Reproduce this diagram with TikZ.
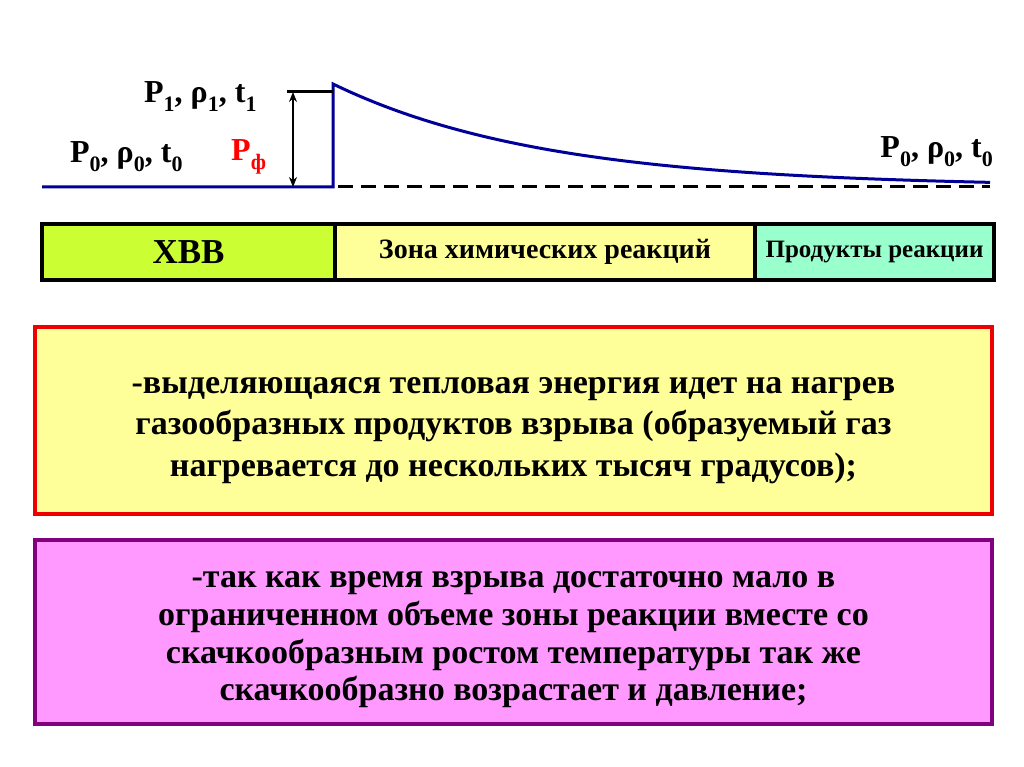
\documentclass[tikz,border=0pt]{standalone}
\usepackage{fontspec}
\setmainfont{Liberation Serif}
\usepackage{xcolor}
\usetikzlibrary{positioning,arrows.meta}
\definecolor{waveblue}{HTML}{000099}
\definecolor{hvvgreen}{HTML}{CCFF33}
\definecolor{paleyellow}{HTML}{FFFF99}
\definecolor{mint}{HTML}{99FFCC}
\definecolor{pinkfill}{HTML}{FF99FF}
\definecolor{plum}{HTML}{800080}
\definecolor{boxred}{HTML}{EE0000}
\newcommand{\idx}[1]{\raisebox{-0.28em}{\fontsize{22}{22}\selectfont #1}}

\begin{document}
\begin{tikzpicture}[x=1pt, y=-1pt,
  lbl/.style={font=\bfseries\fontsize{32}{34}\selectfont, inner sep=0pt, anchor=base west},
  prof/.style={line width=3pt, waveblue},
  cell/.style={draw, line width=4pt, minimum height=56pt, inner sep=0pt, anchor=north west},
  note/.style={draw, line width=4pt, minimum width=957pt, inner sep=0pt, anchor=north west},
  notetext/.style={align=center, inner sep=0pt}]
\useasboundingbox (0,0) rectangle (1024,767);
% pressure profile
\coordinate (start) at (42,187);
\coordinate (front) at (333,187);
\coordinate (peak) at (333,84);
\draw[prof, line join=miter] (start) -- (front) -- (peak)
  -- plot[domain=333:990, samples=80] (\x, {187-103*exp(-(\x-333)/212)});
\draw[line width=3pt, dash pattern=on 15pt off 8pt] (338,187) -- (990,187);
\coordinate (ptop) at (287,92);
\coordinate (atop) at (293,92);
\coordinate (abot) at (293,187);
\draw[line width=3pt] (ptop) -- (peak |- ptop);
\draw[line width=1.5pt, {Stealth[length=10pt,width=8pt]}-{Stealth[length=10pt,width=8pt]}] (atop) -- (abot);
\node[lbl] (p1) at (144,103) {P\idx{1}, ρ\idx{1}, t\idx{1}};
\node[lbl] (p0l) at (70,163) {P\idx{0}, ρ\idx{0}, t\idx{0}};
\node[lbl, red] (pf) at (231,161) {P\idx{ф}};
\node[lbl, anchor=base east] (p0r) at (993,158) {P\idx{0}, ρ\idx{0}, t\idx{0}};
% zones
\node[cell, fill=hvvgreen, minimum width=293pt, font=\bfseries\fontsize{35}{36}\selectfont] (hvv) at (40,222) {ХВВ};
\node[cell, fill=paleyellow, minimum width=420pt, font=\bfseries\fontsize{28}{30}\selectfont] (zone) at (333,222) {Зона химических реакций};
\node[cell, fill=mint, minimum width=239pt, font=\bfseries\fontsize{25}{26}\selectfont] (prod) at (753,222) {Продукты реакции};
% notes
\node[note, draw=boxred, fill=paleyellow, minimum height=187pt] (heat) at (33,325) {};
\node[notetext, font=\bfseries\fontsize{34}{41.5}\selectfont] (heattext) at ([yshift=-10pt]heat.center)
  {-выделяющаяся тепловая энергия идет на нагрев\\
   газообразных продуктов взрыва (образуемый газ\\
   нагревается до нескольких тысяч градусов);};
\node[note, draw=plum, fill=pinkfill, minimum height=184pt] (press) at (33,538) {};
\node[notetext, font=\bfseries\fontsize{34}{37.7}\selectfont] (presstext) at ([yshift=-8pt]press.center)
  {-так как время взрыва достаточно мало в\\
   ограниченном объеме зоны реакции вместе со\\
   скачкообразным ростом температуры так же\\
   скачкообразно возрастает и давление;};
\end{tikzpicture}
\end{document}
